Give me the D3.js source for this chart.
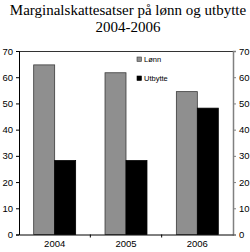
<!DOCTYPE html>
<html>
<head>
<meta charset="utf-8">
<script src="https://cdn.jsdelivr.net/npm/d3@7"></script>
<style>
  body { margin: 0; background: #fff; }
  svg { display: block; }
</style>
</head>
<body>
<div id="chart"></div>
<script>
// data
let years = ["2004", "2005", "2006"];
let series = ["Lønn", "Utbytte"];
let lonn = [64.7, 61.7, 54.5];
let utbytte = [28.2, 28.2, 48.2];
let yTicks = [0, 10, 20, 30, 40, 50, 60, 70];
let titleLines = ["Marginalskattesatser på lønn og utbytte", "2004-2006"];

let width = 250, height = 252;
let plotLeft = 19, plotRight = 233, plotTop = 51, plotBottom = 234.5;

let colors = { "Lønn": "#8f8f8f", "Utbytte": "#000" };

let svg = d3.select("#chart").append("svg")
    .attr("width", width)
    .attr("height", height);

svg.append("g")
    .attr("font-family", "'Liberation Serif', 'Times New Roman', serif")
    .attr("font-size", 15)
    .attr("text-anchor", "middle")
    .selectAll("text")
    .data(titleLines)
    .join("text")
    .attr("x", width / 2 + 3)
    .attr("y", (d, i) => 15 + i * 17)
    .text(d => d);

let x0 = d3.scaleBand().domain(years).range([plotLeft, plotRight]);
let x1 = d3.scaleBand().domain(series).range([0, x0.bandwidth()]).paddingOuter(0.7);
let y = d3.scaleLinear().domain([0, 70]).range([plotBottom, plotTop]);

let rows = years.map((yr, i) => ({ year: yr, values: [lonn[i], utbytte[i]] }));

// bars
svg.append("g")
    .selectAll("g")
    .data(rows)
    .join("g")
    .attr("transform", d => `translate(${x0(d.year)},0)`)
    .selectAll("rect")
    .data(d => d.values.map((v, k) => ({ key: series[k], value: v })))
    .join("rect")
    .attr("x", d => x1(d.key))
    .attr("y", d => y(d.value))
    .attr("width", x1.bandwidth())
    .attr("height", d => y(0) - y(d.value))
    .attr("fill", d => colors[d.key])
    .attr("stroke", d => d.key === "Lønn" ? "#3a3a3a" : "#000")
    .attr("stroke-width", 0.8);

// top frame line
svg.append("line")
    .attr("x1", plotLeft).attr("x2", plotRight)
    .attr("y1", plotTop + 0.5).attr("y2", plotTop + 0.5)
    .attr("stroke", "#333");

let tickFont = "'Liberation Sans', Arial, sans-serif";

let yLeft = svg.append("g")
    .attr("transform", `translate(${plotLeft},0)`)
    .call(d3.axisLeft(y).tickValues(yTicks).tickSize(3).tickPadding(3));
yLeft.select(".domain").attr("stroke", "#000");

let yRight = svg.append("g")
    .attr("transform", `translate(${plotRight},0)`)
    .call(d3.axisRight(y).tickValues(yTicks).tickSize(3).tickPadding(3));
yRight.selectAll("line,.domain").attr("stroke", "#808080");
yRight.select(".domain").attr("stroke-width", 1.5);

// x axis with ticks on category boundaries
let xAxis = svg.append("g")
    .attr("transform", `translate(0,${plotBottom})`)
    .call(d3.axisBottom(x0).tickSize(0).tickPadding(6));
xAxis.select(".domain").attr("stroke", "#000");
xAxis.selectAll(".bound")
    .data(years.slice(1))
    .join("line")
    .attr("class", "bound")
    .attr("x1", d => x0(d)).attr("x2", d => x0(d))
    .attr("y1", 0).attr("y2", 3)
    .attr("stroke", "#000");

svg.selectAll(".tick text")
    .attr("font-family", tickFont)
    .attr("font-size", 9.5)
    .attr("fill", "#000");

// legend
let legend = svg.append("g")
    .attr("transform", "translate(137,57)")
    .selectAll("g")
    .data(series)
    .join("g")
    .attr("transform", (d, i) => `translate(0,${i * 19})`);
legend.append("rect")
    .attr("width", 4.5).attr("height", 4.5)
    .attr("fill", d => colors[d])
    .attr("stroke", d => d === "Lønn" ? "#3a3a3a" : "#000")
    .attr("stroke-width", 0.6);
legend.append("text")
    .attr("x", 7).attr("y", 4.5)
    .attr("font-family", tickFont)
    .attr("font-size", 7.5)
    .text(d => d);
</script>
</body>
</html>
